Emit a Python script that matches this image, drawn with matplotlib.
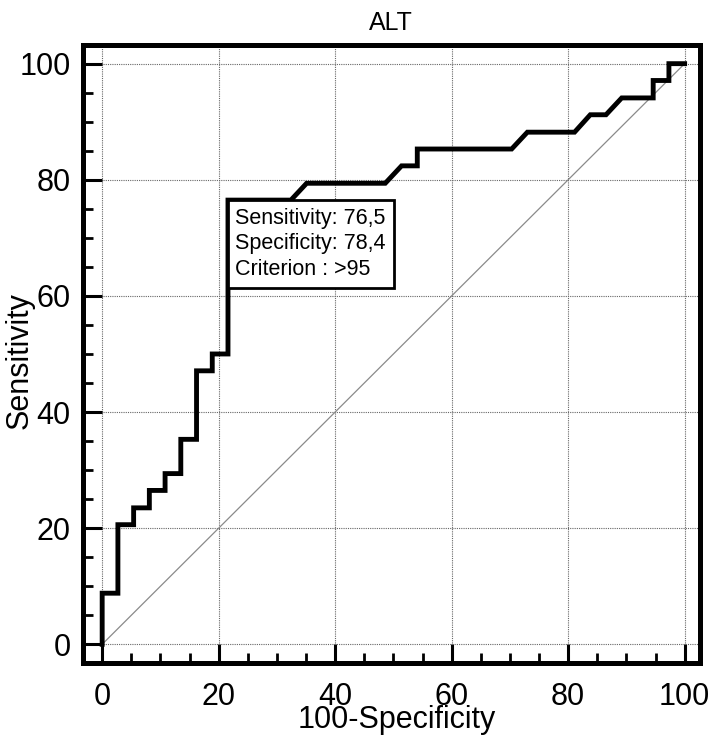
"""
ROC 曲线 — ALT
"""
import matplotlib
matplotlib.use("Agg")
import matplotlib.pyplot as plt
from matplotlib.ticker import MultipleLocator

plt.rcParams["font.family"] = ["Liberation Sans", "DejaVu Sans"]

# ── 数据 ──────────────────────────────────────
fpr = [0, 0, 2.7, 2.7, 5.4, 5.4, 8.1, 8.1, 10.8, 10.8, 13.5, 13.5,
       16.2, 16.2, 18.9, 18.9, 21.6, 21.6, 32.4, 35.1, 48.6, 51.4,
       54.1, 54.1, 70.3, 73.0, 81.1, 83.8, 86.5, 89.2, 94.6, 94.6,
       97.3, 97.3, 100]
tpr = [0, 8.8, 8.8, 20.6, 20.6, 23.5, 23.5, 26.5, 26.5, 29.4, 29.4, 35.3,
       35.3, 47.1, 47.1, 50.0, 50.0, 76.5, 76.5, 79.4, 79.4, 82.4,
       82.4, 85.3, 85.3, 88.2, 88.2, 91.2, 91.2, 94.1, 94.1, 97.1,
       97.1, 100, 100]
diag = [0, 100]

crit_x = 21.6          # 100 - 78.4
crit_y = 76.5
sens_txt = "76,5"
spec_txt = "78,4"
crit_txt = ">95"

title = "ALT"
xlabel = "100-Specificity"
ylabel = "Sensitivity"


def main():
    fig = plt.figure(figsize=(7.09, 7.39), dpi=100)
    ax = fig.add_axes([0.117, 0.103, 0.870, 0.836])

    ax.plot(diag, diag, color="#8a8a8a", linewidth=0.9, zorder=2)
    ax.plot(fpr, tpr, color="black", linewidth=3.5, zorder=3,
            solid_joinstyle="miter")

    ax.set_xlim(-3.3, 102.6)
    ax.set_ylim(-3.2, 103.2)

    ax.xaxis.set_major_locator(MultipleLocator(20))
    ax.yaxis.set_major_locator(MultipleLocator(20))
    ax.xaxis.set_minor_locator(MultipleLocator(5))
    ax.yaxis.set_minor_locator(MultipleLocator(5))
    ax.tick_params(which="major", direction="in", length=14, width=2.2,
                   labelsize=22, pad=9, top=False, right=False)
    ax.tick_params(which="minor", direction="in", length=7, width=2.0,
                   top=False, right=False)
    ax.tick_params(axis="x", which="major", pad=14)

    ax.grid(True, which="major", color="#666666", linestyle=(0, (1, 1)),
            linewidth=0.8, zorder=1)
    for s in ax.spines.values():
        s.set_linewidth(3.6)

    ax.set_title(title, fontsize=18, pad=11)
    ax.set_xlabel(xlabel, fontsize=22)
    ax.set_ylabel(ylabel, fontsize=22)
    ax.xaxis.set_label_coords(0.508, -0.068)
    ax.yaxis.set_label_coords(-0.079, 0.49)

    # ── 最佳截断点标注 ──
    label = (f"Sensitivity: {sens_txt}\n"
             f"Specificity: {spec_txt}\n"
             f"Criterion : {crit_txt}")
    ax.annotate(label, xy=(crit_x, crit_y), xytext=(5.4, -5.4),
                textcoords="offset points", ha="left", va="top",
                fontsize=15.5, linespacing=1.3, zorder=5,
                bbox=dict(boxstyle="square,pad=0.35", facecolor="white",
                          edgecolor="black", linewidth=2.0))

    fig.savefig("out.png", dpi=100)
    plt.close(fig)


if __name__ == "__main__":
    main()
